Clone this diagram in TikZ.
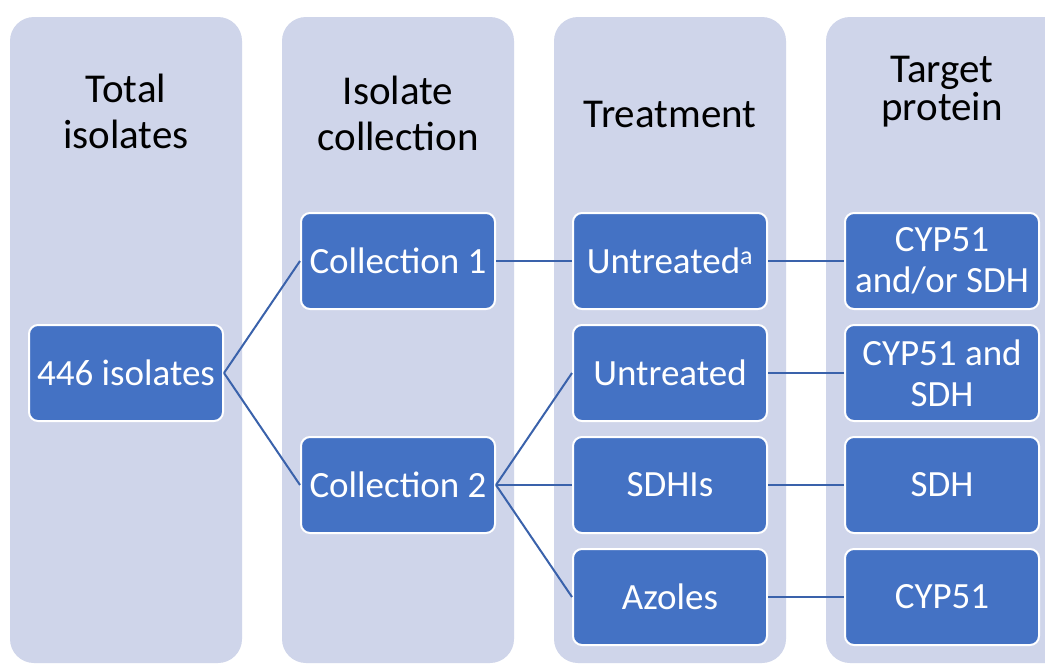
\documentclass[tikz,border=0pt]{standalone}
\usepackage{fontspec}
\setmainfont{Carlito}
\definecolor{colbg}{HTML}{CFD5EA}
\definecolor{boxblue}{HTML}{4472C4}
\definecolor{linkblue}{HTML}{3A62AB}
\tikzset{
  column/.style={fill=colbg, rounded corners=24pt},
  header/.style={align=center, anchor=base, font=\fontsize{41}{46}\selectfont, text=black, inner sep=0pt},
  item/.style={fill=boxblue, draw=white, line width=2pt, rounded corners=9pt,
    minimum width=194pt, minimum height=96pt, align=center, text=white,
    font=\fontsize{37}{41}\selectfont, inner sep=0pt},
  link/.style={draw=linkblue, line width=2pt}
}
\begin{document}
\begin{tikzpicture}[x=1pt,y=-1pt]
\useasboundingbox (0,0) rectangle (1045,664);
\clip (0,0) rectangle (1045,664);
\fill[white] (0,0) rectangle (1045,664);
% columns
\fill[column] (10,17) rectangle (242,663);
\fill[column] (282,17) rectangle (514,663);
\fill[column] (554,17) rectangle (786,663);
\fill[column] (826,17) rectangle (1070,663);
% headers (base anchor = baseline of the last line)
\node[header] (h1) at (126,148) {Total\\isolates};
\node[header] (h2) at (398,150) {Isolate\\collection};
\node[header] (h3) at (670,127) {Treatment};
\node[header, font=\fontsize{41}{38}\selectfont] (h4) at (942,120) {Target\\protein};
% boxes
\node[item] (tot) at (126,373) {446 isolates};
\node[item] (c1) at (398,261) {Collection 1};
\node[item] (c2) at (398,485) {Collection 2};
\node[item] (ua) at (670,261) {Untreated\textsuperscript{\fontsize{26}{26}\selectfont a}};
\node[item] (un) at (670,373) {Untreated};
\node[item] (sd) at (670,485) {SDHIs};
\node[item] (az) at (670,597) {Azoles};
\node[item] (t1) at (942,261) {CYP51\\and/or SDH};
\node[item] (t2) at (942,373) {CYP51 and\\SDH};
\node[item] (t3) at (942,485) {SDH};
\node[item] (t4) at (942,597) {CYP51};
% connectors
\draw[link] (tot.east) -- (c1.west);
\draw[link] (tot.east) -- (c2.west);
\draw[link] (c1.east) -- (ua.west);
\draw[link] (c2.east) -- (un.west);
\draw[link] (c2.east) -- (sd.west);
\draw[link] (c2.east) -- (az.west);
\draw[link] (ua.east) -- (t1.west);
\draw[link] (un.east) -- (t2.west);
\draw[link] (sd.east) -- (t3.west);
\draw[link] (az.east) -- (t4.west);
\end{tikzpicture}
\end{document}
